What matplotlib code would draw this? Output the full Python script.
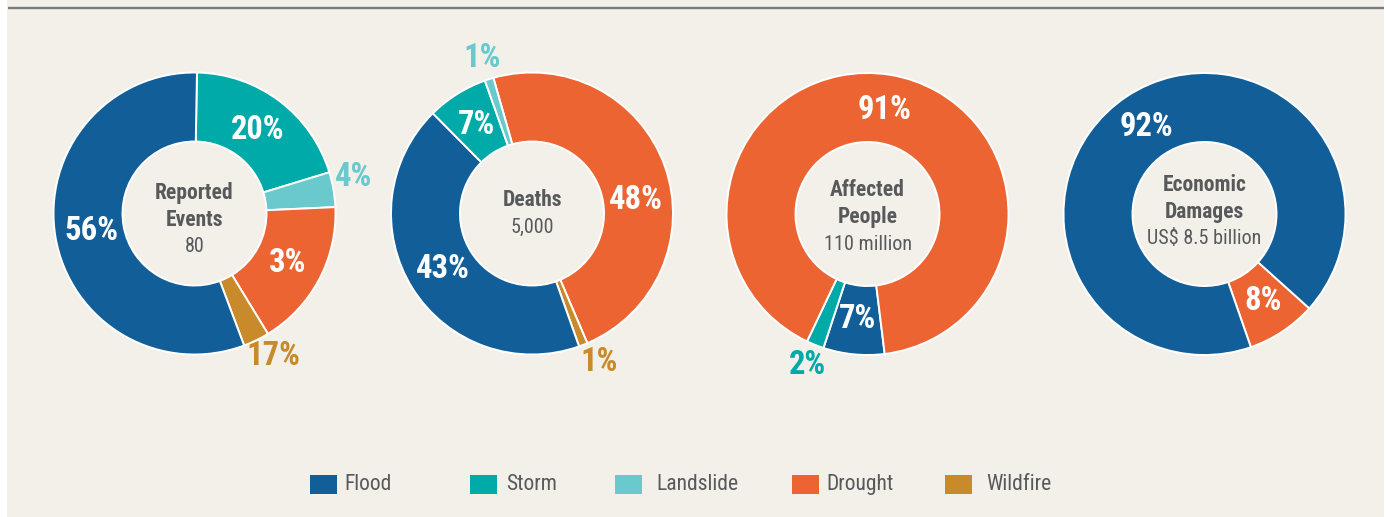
import matplotlib
matplotlib.use('Agg')
import matplotlib.pyplot as plt
from matplotlib.patches import Rectangle
from matplotlib import font_manager as fm
import numpy as np

W, H = 1389, 517

# ---------------- data ----------------
categories = ['Flood', 'Storm', 'Landslide', 'Drought', 'Wildfire']
cat_colors = ['#115e99', '#00aaa8', '#69c9cc', '#eb6432', '#c88a2b']

# Reported events (slice order clockwise from top)
events_order = ['Storm', 'Landslide', 'Drought', 'Wildfire', 'Flood']
events_share = [20, 4, 17, 3, 56]
events_labels = ['20%', '4%', '3%', '17%', '56%']
events_title = ['Reported', 'Events']
events_total = '80'

# Deaths
deaths_order = ['Drought', 'Wildfire', 'Flood', 'Storm', 'Landslide']
deaths_share = [48, 1, 43, 7, 1]
deaths_labels = ['48%', '1%', '43%', '7%', '1%']
deaths_title = ['Deaths']
deaths_total = '5,000'

# Affected people
affected_order = ['Flood', 'Storm', 'Drought']
affected_share = [7, 2, 91]
affected_labels = ['7%', '2%', '91%']
affected_title = ['Affected', 'People']
affected_total = '110 million'

# Economic damages
damages_order = ['Drought', 'Flood']
damages_share = [8, 92]
damages_labels = ['8%', '92%']
damages_title = ['Economic', 'Damages']
damages_total = 'US$ 8.5 billion'

# ---------------- style / layout ----------------
BG = '#f3f0ea'
TXT = '#58595b'
color_of = dict(zip(categories, cat_colors))

names = {f.name for f in fm.fontManager.ttflist}
FAM, STRETCH = 'DejaVu Sans', 'condensed'
for cand in ['Roboto Condensed', 'Liberation Sans Narrow', 'Open Sans Condensed',
             'Noto Sans Condensed', 'Arial Narrow']:
    if cand in names:
        FAM, STRETCH = cand, 'normal'
        break

charts = [
    dict(order=events_order, share=events_share, labels=events_labels,
         title=events_title, total=events_total, cx=194.5, cy=213.5, start=89, tdy=6.5,
         shift={1: 3, 3: 3}),
    dict(order=deaths_order, share=deaths_share, labels=deaths_labels,
         title=deaths_title, total=deaths_total, cx=532, cy=213.5, start=105.9, tdy=0.5,
         shift={0: -12, 1: 3}),
    dict(order=affected_order, share=affected_share, labels=affected_labels,
         title=affected_title, total=affected_total, cx=867.5, cy=214, start=-83, tdy=3, shift={}),
    dict(order=damages_order, share=damages_share, labels=damages_labels,
         title=damages_title, total=damages_total, cx=1204.5, cy=214, start=-42, tdy=-2, shift={}),
]

R_OUT, R_IN = 141, 72

# legend layout (pixel positions, left edges of swatches and texts)
leg_swatch_x = [310, 470, 615, 792, 945]
leg_text_x = [344, 506, 656, 826, 986]
leg_y = 484.5

fig = plt.figure(figsize=(W / 100, H / 100), dpi=100, facecolor='white')
ax = fig.add_axes([0, 0, 1, 1])
ax.set_facecolor('white')

ax.add_patch(Rectangle((7, 0), 1377, H, facecolor=BG, edgecolor='none', zorder=0))
ax.plot([8, 1384], [H - 7.8, H - 7.8], color='#777b7f', lw=1.7, solid_capstyle='butt', zorder=1)

for ch in charts:
    cx, cy = ch['cx'], H - ch['cy']
    cols = [color_of[c] for c in ch['order']]
    wedges, _ = ax.pie(ch['share'], colors=cols, startangle=ch['start'], counterclock=False,
                       radius=R_OUT, center=(cx, cy), frame=True,
                       wedgeprops=dict(width=R_OUT - R_IN, edgecolor='white', linewidth=1.4))
    for i, (w, lab, val, col) in enumerate(zip(wedges, ch['labels'], ch['share'], cols)):
        mid = np.deg2rad((w.theta1 + w.theta2) / 2 + ch['shift'].get(i, 0))
        if val < 5:
            rr, tc = 1.155 * R_OUT, col
        else:
            rr, tc = 0.745 * R_OUT, 'white'
        ax.text(cx + rr * np.cos(mid), cy + rr * np.sin(mid), lab, ha='center', va='center',
                color=tc, fontsize=23.5, fontweight='bold', family=FAM, fontstretch=STRETCH, zorder=5)
    lines = [(t, 'bold') for t in ch['title']] + [(ch['total'], 'normal')]
    n = len(lines)
    for k, (t, fw) in enumerate(lines):
        y = cy - ch['tdy'] - (k - (n - 1) / 2) * 27
        ax.text(cx, y, t, ha='center', va='center', color=TXT, fontsize=15.5 if fw == 'bold' else 14.5,
                fontweight=fw, family=FAM, fontstretch=STRETCH, zorder=5)

# legend
for sx, tx, cat, col in zip(leg_swatch_x, leg_text_x, categories, cat_colors):
    ax.add_patch(Rectangle((sx, H - leg_y - 9.5), 27, 19, facecolor=col, edgecolor='none', zorder=5))
    ax.text(tx, H - leg_y, cat, ha='left', va='center', color=TXT, fontsize=15.5,
            family=FAM, fontstretch=STRETCH, zorder=5)

ax.set_xlim(0, W)
ax.set_ylim(0, H)
ax.set_aspect('auto')
ax.axis('off')

fig.savefig('out.png', dpi=100, facecolor='white')
